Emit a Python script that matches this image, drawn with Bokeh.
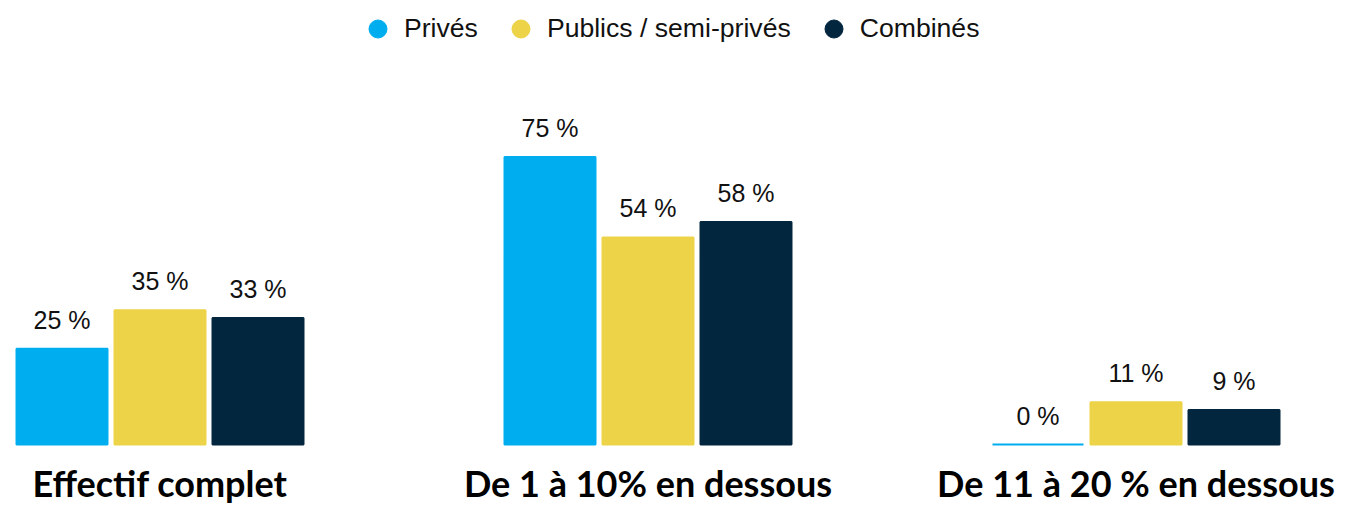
from bokeh.plotting import figure
from bokeh.models import ColumnDataSource, Range1d, Legend, LegendItem
from bokeh.transform import dodge
from bokeh.core.properties import value
from bokeh.embed import file_html
from bokeh.resources import INLINE

categories = ["Effectif complet", "De 1 à 10% en dessous", "De 11 à 20 % en dessous"]
series = ["Privés", "Publics / semi-privés", "Combinés"]
prives = [25, 75, 0]
publics = [35, 54, 11]
combines = [33, 58, 9]
colors = ["#00AEEF", "#ECD348", "#03263F"]

W, H = 1357, 508
base_px = 444          # pixel row of the baseline
px_per_unit = 3.835    # pixels per percent
group_step_px = 488
first_center_px = 159.5

xs = list(range(len(categories)))
data = dict(x=xs, cat=categories, prives=prives, publics=publics, combines=combines,
            l_prives=[f"{v} %" for v in prives],
            l_publics=[f"{v} %" for v in publics],
            l_combines=[f"{v} %" for v in combines],
            hidden=[float("nan")] * len(categories))
src = ColumnDataSource(data)

x_start = -first_center_px / group_step_px
x_end = (W - first_center_px) / group_step_px
y_start = -(H - base_px) / px_per_unit
y_end = base_px / px_per_unit

p = figure(width=W, height=H, output_backend="svg", toolbar_location=None,
           x_range=Range1d(x_start, x_end), y_range=Range1d(y_start, y_end),
           min_border=0, min_border_left=0, min_border_right=0,
           min_border_top=0, min_border_bottom=0)
p.axis.visible = False
p.grid.visible = False
p.outline_line_color = None
p.background_fill_color = "white"
p.border_fill_color = "white"

bar_w = 91 / group_step_px
step = 98 / group_step_px
cols = ["prives", "publics", "combines"]
lcols = ["l_prives", "l_publics", "l_combines"]
offsets = [-step, 0, step]

for col, lcol, off, c in zip(cols, lcols, offsets, colors):
    p.vbar(x=dodge("x", off, range=p.x_range), top=col, bottom=0, width=bar_w,
           source=src, fill_color=c, line_color=c, line_width=2)
    p.text(x=dodge("x", off, range=p.x_range), y=col, text=lcol, source=src,
           text_align="center", text_baseline="alphabetic", y_offset=-29,
           text_font=value("Liberation Sans"), text_font_size="25px",
           text_color="#111111")

# category labels under each group
p.text(x="x", y=0, text="cat", source=src, text_align="center",
       text_baseline="alphabetic", y_offset=38,
       text_font=value("Lato"), text_font_style="bold",
       text_font_size="36px", text_color="#000000")

# legend with circle markers (renderers hold no visible points)
items = []
for s, c in zip(series, colors):
    r = p.scatter(x="x", y="hidden", source=src, marker="circle", size=18,
                  fill_color=c, line_color=c)
    items.append(LegendItem(label=s, renderers=[r], index=0))
legend = Legend(items=items, orientation="horizontal", location=(355, 457),
                border_line_color=None, background_fill_alpha=0,
                label_text_font="Liberation Sans", label_text_font_size="26.6px",
                label_text_color="#111111", glyph_width=45, glyph_height=45,
                label_standoff=4, spacing=20, margin=0, padding=0)
p.add_layout(legend)

open("out.html", "w").write(file_html(p, INLINE))
